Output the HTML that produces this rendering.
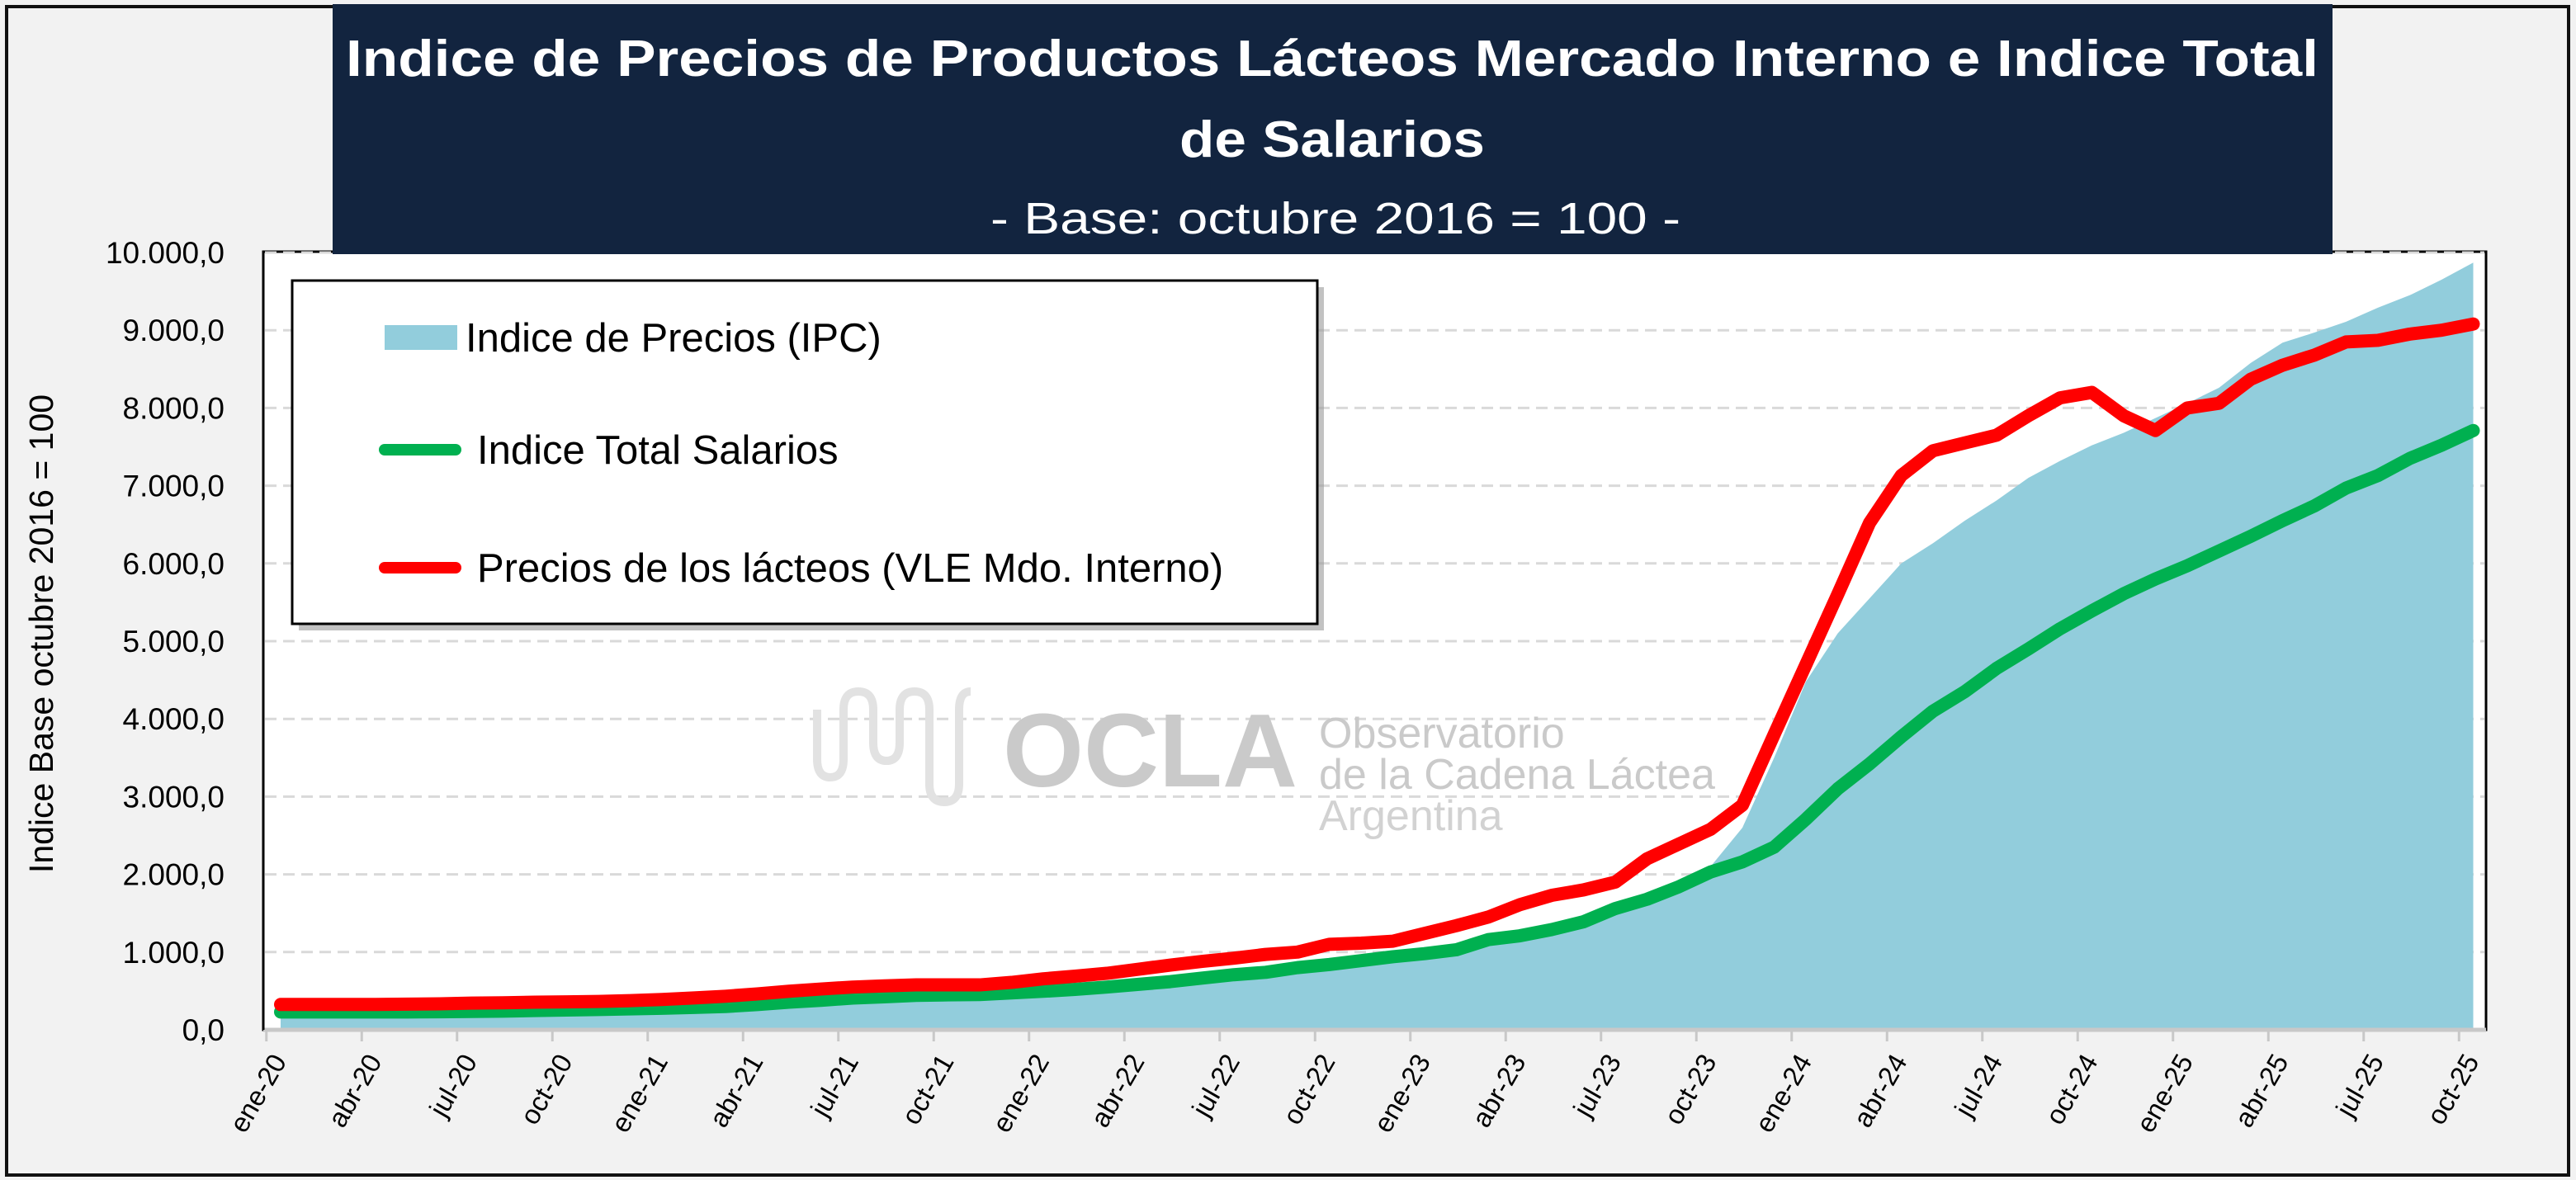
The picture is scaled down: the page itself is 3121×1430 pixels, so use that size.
<!DOCTYPE html>
<html><head><meta charset="utf-8"><style>
html,body{margin:0;padding:0;background:#f2f2f2}
svg{display:block;font-family:"Liberation Sans",sans-serif}
</style></head><body>
<svg id="chart" width="3121" height="1430" viewBox="0 0 3121 1430" xmlns="http://www.w3.org/2000/svg">
<rect x="0" y="0" width="3121" height="1430" fill="#f2f2f2"/>
<rect x="8" y="8" width="3104" height="1416" fill="none" stroke="#111" stroke-width="4"/>
<rect x="319" y="305" width="2693" height="943" fill="#fff" stroke="#000" stroke-width="3"/>
<g id="grid"></g>
<g id="watermark">
  <path d="M990,860 v60 q0,22 16,22 q16,0 16,-22 v-60 q0,-22 18,-22 q18,0 18,22 v40 q0,22 16,22 q16,0 16,-22 v-40 q0,-22 18,-22 q18,0 18,22 v90 q0,22 18,22 q18,0 18,-22 v-90 q0,-22 14,-22" fill="none" stroke="#e2e2e2" stroke-width="10"/>
  <text x="1215" y="953" font-size="126" font-weight="bold" fill="#cacaca">OCLA</text>
  <text x="1598" y="906" font-size="52" fill="#cacaca">Observatorio</text>
  <text x="1598" y="956" font-size="52" fill="#cacaca">de la Cadena Láctea</text>
  <text x="1598" y="1006" font-size="52" fill="#d2d2d2">Argentina</text>
</g>
<g id="series"></g>
<line x1="319" y1="1248" x2="3012" y2="1248" stroke="#c8c8c8" stroke-width="5"/>
<line x1="319" y1="305" x2="319" y2="1248" stroke="#000" stroke-width="3"/>
<g id="yticks"></g>
<g id="xticks"></g>
<text transform="translate(64,768) rotate(-90)" text-anchor="middle" font-size="41" fill="#000">Indice Base octubre 2016 = 100</text>
<rect x="403" y="5" width="2423" height="303" fill="#12243f"/>
<text x="1614" y="92" text-anchor="middle" font-size="62" font-weight="bold" fill="#fff" textLength="2390" lengthAdjust="spacingAndGlyphs">Indice de Precios de Productos Lácteos Mercado Interno e Indice Total</text>
<text x="1614" y="190" text-anchor="middle" font-size="62" font-weight="bold" fill="#fff" textLength="370" lengthAdjust="spacingAndGlyphs">de Salarios</text>
<text x="1618" y="283" text-anchor="middle" font-size="54" fill="#fff" textLength="836" lengthAdjust="spacingAndGlyphs">- Base: octubre 2016 = 100 -</text>
<g>
  <rect x="362" y="348" width="1242" height="416" fill="#9a9a9a" opacity="0.6"/>
  <rect x="354" y="340" width="1242" height="416" fill="#fff" stroke="#000" stroke-width="3"/>
  <rect x="466" y="394" width="88" height="30" fill="#92cddc"/>
  <text x="564" y="426" font-size="49" fill="#000">Indice de Precios (IPC)</text>
  <line x1="466" y1="545" x2="552" y2="545" stroke="#00b050" stroke-width="14" stroke-linecap="round"/>
  <text x="578" y="562" font-size="49" fill="#000">Indice Total Salarios</text>
  <line x1="466" y1="688" x2="552" y2="688" stroke="#ff0000" stroke-width="14" stroke-linecap="round"/>
  <text x="578" y="705" font-size="49" fill="#000">Precios de los lácteos (VLE Mdo. Interno)</text>
</g>
<script>
const monthNames = ["ene","feb","mar","abr","may","jun","jul","ago","sep","oct","nov","dic"];
const years = ["20","21","22","23","24","25"];
const yTicks = [0,1000,2000,3000,4000,5000,6000,7000,8000,9000,10000];
const yTickLabels = ["0,0","1.000,0","2.000,0","3.000,0","4.000,0","5.000,0","6.000,0","7.000,0","8.000,0","9.000,0","10.000,0"];
const ipc = [200,205,208,210,212,215,218,222,228,234,240,248,
256,266,278,300,325,350,375,395,415,425,432,450,
470,495,525,560,600,645,690,735,790,840,890,940,
990,1050,1150,1230,1330,1450,1600,1720,1900,2100,2600,3500,
4480,5100,5550,6000,6260,6550,6810,7100,7320,7520,7680,7870,
8060,8260,8580,8840,8970,9110,9290,9450,9650,9870];
const salarios = [230,230,230,230,230,232,236,240,248,255,262,270,
277,288,300,325,355,380,408,425,443,450,454,475,
496,520,550,585,620,665,709,740,800,840,890,940,
980,1030,1160,1210,1290,1390,1560,1680,1840,2030,2160,2350,
2710,3100,3420,3770,4100,4350,4650,4900,5160,5390,5610,5800,
5970,6160,6350,6550,6740,6970,7130,7350,7520,7710];
const lacteos = [326,326,326,326,330,335,344,348,355,360,365,375,
390,410,432,462,496,525,550,565,578,578,578,610,
656,690,727,780,833,880,922,970,1000,1100,1115,1140,
1240,1340,1450,1610,1730,1800,1900,2200,2390,2580,2890,3800,
4700,5600,6520,7130,7450,7550,7650,7900,8130,8200,7900,7710,
8000,8060,8370,8550,8680,8850,8870,8950,9000,9080];

const categories = [];
years.forEach(y => monthNames.forEach(m => categories.push(m + "-" + y)));
categories.length = ipc.length;

const NS = "http://www.w3.org/2000/svg";
const X0 = 340, STEP = 38.5, Y0 = 1248, YTOP = 306, YMAX = 10000;
function xScale(i){ return X0 + i * STEP; }
function yScale(v){ return Y0 - (v / YMAX) * (Y0 - YTOP); }
function mk(tag, attrs, parent){ const e = document.createElementNS(NS, tag); for (const k in attrs) e.setAttribute(k, attrs[k]); parent.appendChild(e); return e; }

const grid = document.getElementById("grid");
yTicks.forEach((v, k) => {
  if (v === 0) return;
  const l = mk("line", {x1: 321, x2: 3010, y1: yScale(v), y2: yScale(v), stroke: "#d9d9d9", "stroke-width": 3, "stroke-dasharray": "14 8"}, grid);
  
  
});
const yt = document.getElementById("yticks");
yTicks.forEach((v, k) => {
  const t = mk("text", {x: 272, y: yScale(v) + 13, "text-anchor": "end", "font-size": 37, fill: "#000"}, yt);
  t.textContent = yTickLabels[k];
  
  
});
const xt = document.getElementById("xticks");
categories.forEach((c, i) => {
  if (i % 3 !== 0) return;
  const tx = xScale(i) - STEP / 2 + 2;
  const tk = mk("line", {x1: tx, x2: tx, y1: 1248, y2: 1262, stroke: "#c8c8c8", "stroke-width": 3}, xt);
  
  
  const t = mk("text", {transform: "translate(" + (xScale(i) + 8) + ",1286) rotate(-60)", "text-anchor": "end", "font-size": 33, fill: "#000"}, xt);
  t.textContent = c;
  
  
});
const S = document.getElementById("series");
let d = "M" + xScale(0) + "," + Y0;
ipc.forEach((v, i) => { d += " L" + xScale(i) + "," + yScale(v); });
d += " L" + xScale(ipc.length - 1) + "," + Y0 + " Z";
const area = mk("path", {d: d, fill: "#92cddc"}, S);


function line(arr, color, name){
  const p = mk("path", {d: arr.map((v, i) => (i ? "L" : "M") + xScale(i) + "," + yScale(v)).join(" "), fill: "none", stroke: color, "stroke-width": 16, "stroke-linejoin": "round", "stroke-linecap": "round"}, S);
  
  
}
line(salarios, "#00b050", "salarios-line");
line(lacteos, "#ff0000", "lacteos-line");
</script>
</svg>
</body></html>
